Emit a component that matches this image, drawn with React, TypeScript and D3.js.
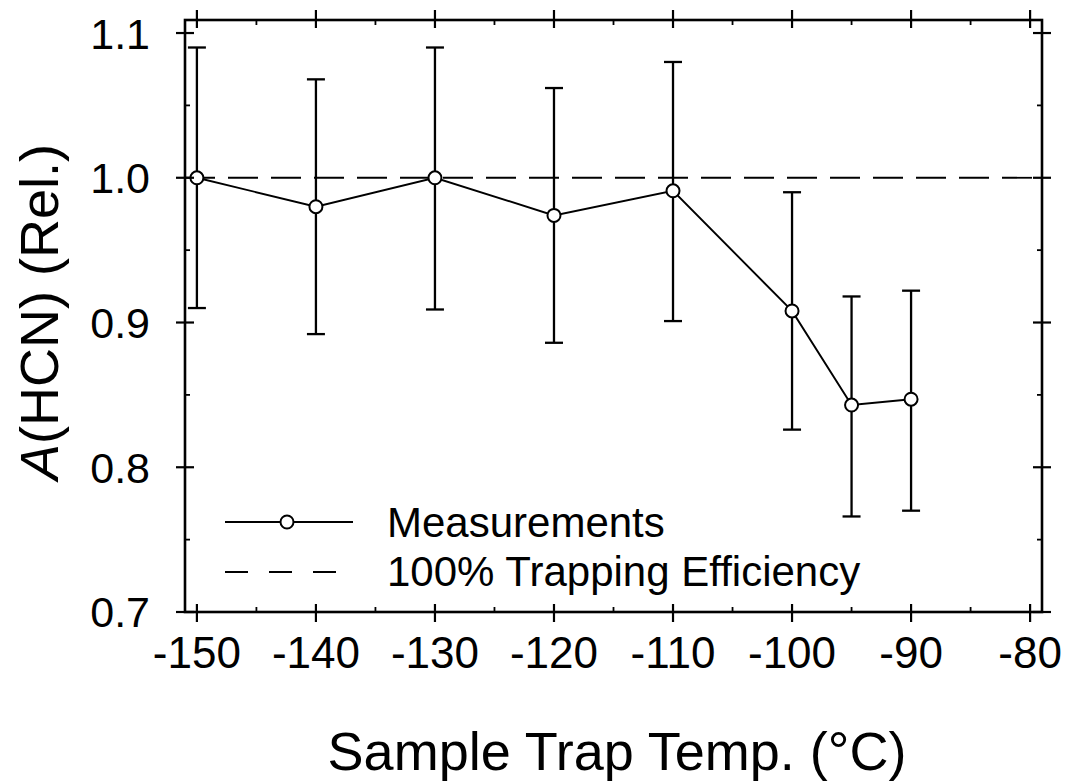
import React from "react";
import * as d3 from "d3";

const temps = [-150, -140, -130, -120, -110, -100, -95, -90];
const values = [1.0, 0.98, 1.0, 0.974, 0.991, 0.908, 0.843, 0.847];
const errHigh = [1.09, 1.068, 1.09, 1.062, 1.08, 0.99, 0.918, 0.922];
const errLow = [0.91, 0.892, 0.909, 0.886, 0.901, 0.826, 0.766, 0.77];
const xTicks = [-150, -140, -130, -120, -110, -100, -90, -80];
const xMinor = [-145, -135, -125, -115, -105, -95, -85];
const yTicks = [0.7, 0.8, 0.9, 1.0, 1.1];
const yMinor = [0.75, 0.85, 0.95, 1.05];
const referenceLevel = 1.0;
const legendLabels = ["Measurements", "100% Trapping Efficiency"];

const W = 1068;
const H = 781;
const L = 185, R = 1042, T = 20, B = 612;
const FONT = "'Liberation Sans', Arial, Helvetica, sans-serif";

export default function App() {
  const x = d3.scaleLinear().domain([-151, -79]).range([L, R]);
  const y = d3.scaleLinear().domain([0.7, 1.109]).range([B, T]);
  const line = d3
    .line<number>()
    .x((_, i) => x(temps[i]))
    .y((d) => y(d));

  const capHalf = 9;

  return (
    <svg
      width={W}
      height={H}
      style={{ position: "absolute", left: 0, top: 0, background: "#fff" }}
      fontFamily={FONT}
    >
      <rect x={0} y={0} width={W} height={H} fill="#fff" />
      {/* reference line */}
      <line
        x1={L}
        x2={R}
        y1={y(referenceLevel)}
        y2={y(referenceLevel)}
        stroke="#000"
        strokeWidth={1.8}
        strokeDasharray="30 13"
      />
      {/* error bars */}
      {temps.map((t, i) => (
        <g key={"e" + i} stroke="#000" strokeWidth={2.3}>
          <line x1={x(t)} x2={x(t)} y1={y(errHigh[i])} y2={y(errLow[i])} />
          <line x1={x(t) - capHalf} x2={x(t) + capHalf} y1={y(errHigh[i])} y2={y(errHigh[i])} />
          <line x1={x(t) - capHalf} x2={x(t) + capHalf} y1={y(errLow[i])} y2={y(errLow[i])} />
        </g>
      ))}
      {/* data line */}
      <path d={line(values) || ""} fill="none" stroke="#000" strokeWidth={1.9} />
      {temps.map((t, i) => (
        <circle
          key={"c" + i}
          cx={x(t)}
          cy={y(values[i])}
          r={6.5}
          fill="#fff"
          stroke="#000"
          strokeWidth={2}
        />
      ))}
      {/* frame */}
      <rect x={L} y={T} width={R - L} height={B - T} fill="none" stroke="#000" strokeWidth={2.6} />
      {/* x ticks */}
      {xTicks.map((t) => (
        <g key={"xt" + t} stroke="#000" strokeWidth={2.2}>
          <line x1={x(t)} x2={x(t)} y1={B - 8} y2={B + 10} />
          <line x1={x(t)} x2={x(t)} y1={T - 10} y2={T + 8} />
        </g>
      ))}
      {xMinor.map((t) => (
        <g key={"xm" + t} stroke="#000" strokeWidth={1.8}>
          <line x1={x(t)} x2={x(t)} y1={B - 5} y2={B} />
          <line x1={x(t)} x2={x(t)} y1={T} y2={T + 5} />
        </g>
      ))}
      {/* y ticks */}
      {yTicks.map((v) => (
        <g key={"yt" + v} stroke="#000" strokeWidth={2.2}>
          <line x1={L - 9} x2={L + 9} y1={y(v)} y2={y(v)} />
          <line x1={R - 9} x2={R + 9} y1={y(v)} y2={y(v)} />
        </g>
      ))}
      {yMinor.map((v) => (
        <g key={"ym" + v} stroke="#000" strokeWidth={1.8}>
          <line x1={L} x2={L + 5} y1={y(v)} y2={y(v)} />
          <line x1={R - 5} x2={R} y1={y(v)} y2={y(v)} />
        </g>
      ))}
      {/* tick labels */}
      {xTicks.map((t) => (
        <text key={"xl" + t} x={x(t)} y={668} textAnchor="middle" fontSize={44} fill="#000">
          {t}
        </text>
      ))}
      {yTicks.map((v) => (
        <text
          key={"yl" + v}
          x={150}
          y={y(v)}
          dy="0.36em"
          textAnchor="end"
          fontSize={43}
          fill="#000"
        >
          {v.toFixed(1)}
        </text>
      ))}
      {/* axis titles */}
      <text x={617} y={770} textAnchor="middle" fontSize={54} fill="#000">
        Sample Trap Temp. (°C)
      </text>
      <text
        transform={`translate(58, 312) rotate(-90)`}
        textAnchor="middle"
        fontSize={54}
        fill="#000"
      >
        <tspan fontStyle="italic">A</tspan>(HCN) (Rel.)
      </text>
      {/* legend */}
      <line x1={225} x2={353} y1={522} y2={522} stroke="#000" strokeWidth={1.9} />
      <circle cx={287} cy={522} r={6.5} fill="#fff" stroke="#000" strokeWidth={2} />
      <text x={387} y={537} fontSize={42} fill="#000">
        {legendLabels[0]}
      </text>
      <line
        x1={225}
        x2={340}
        y1={572}
        y2={572}
        stroke="#000"
        strokeWidth={1.8}
        strokeDasharray="23 21"
      />
      <text x={387} y={586} fontSize={42} fill="#000">
        {legendLabels[1]}
      </text>
    </svg>
  );
}
